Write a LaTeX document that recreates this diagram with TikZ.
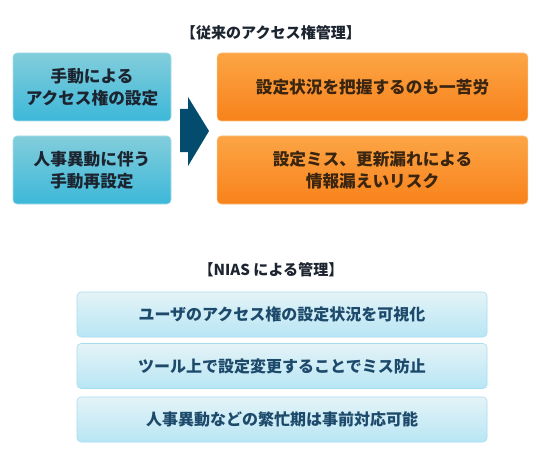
\documentclass[tikz,border=0pt]{standalone}
\usepackage{fontspec}
\setmainfont{Noto Sans CJK JP}[BoldFont={Noto Sans CJK JP Black}]
\usepackage{tikz}
\usetikzlibrary{positioning}
\definecolor{NiasBlueTop}{HTML}{82CDDB}
\definecolor{NiasBlueBot}{HTML}{3DB8D9}
\definecolor{NiasBlueLine}{HTML}{A9DDE9}
\definecolor{NiasOrangeTop}{HTML}{FCA545}
\definecolor{NiasOrangeBot}{HTML}{F8821B}
\definecolor{NiasOrangeLine}{HTML}{FDBE78}
\definecolor{NiasPaleTop}{HTML}{E4F3F6}
\definecolor{NiasPaleBot}{HTML}{B8E6F5}
\definecolor{NiasPaleLine}{HTML}{A6DCF0}
\definecolor{NiasArrow}{HTML}{034C6E}
\definecolor{NiasInk}{HTML}{1C2430}
\definecolor{NiasBrown}{HTML}{3A2510}
\definecolor{NiasNavy}{HTML}{1D4A6B}

\tikzset{
  ttl/.style={font=\fontsize{11.3pt}{14pt}\selectfont\bfseries, text=NiasInk},
  oldbox/.style={rounded corners=3pt, draw=NiasBlueLine, top color=NiasBlueTop,
    bottom color=NiasBlueBot, minimum width=118.5pt, minimum height=51pt,
    align=center, text=NiasInk, font=\fontsize{12.5pt}{16.3pt}\selectfont\bfseries},
  riskbox/.style={rounded corners=3pt, draw=NiasOrangeLine, top color=NiasOrangeTop,
    bottom color=NiasOrangeBot, minimum width=233pt, minimum height=51pt,
    align=center, text=NiasBrown, font=\fontsize{12.5pt}{16.3pt}\selectfont\bfseries},
  niasbox/.style={rounded corners=3pt, draw=NiasPaleLine, top color=NiasPaleTop,
    bottom color=NiasPaleBot, minimum width=307.5pt, minimum height=33.75pt,
    align=center, text=NiasNavy, font=\fontsize{12pt}{14pt}\selectfont\bfseries}
}

\begin{document}
\begin{tikzpicture}[x=0.75pt, y=-0.75pt]
  \useasboundingbox (0,0) rectangle (543,453);
  % current management
  \node[ttl] (oldttl) at (271,33) {【従来のアクセス権管理】};
  \node[oldbox] (manual) at (92,87) {手動による\\アクセス権の設定};
  \node[oldbox] (reset) at (92,170) {人事異動に伴う\\手動再設定};
  \node[riskbox] (effort) at (372.5,87) {設定状況を把握するのも一苦労};
  \node[riskbox] (leak) at (372.5,170) {設定ミス、更新漏れによる\\情報漏えいリスク};
  \fill[NiasArrow] (180,109) -- (188,109) -- (188,97) -- (209,131)
    -- (188,166) -- (188,152) -- (180,152) -- cycle;    % arrow
  % NIAS
  \node[ttl] (niasttl) at (271,270) {【NIAS による管理】};
  \node[niasbox] (visual) at (282,314.5) {ユーザのアクセス権の設定状況を可視化};
  \node[niasbox] (tool) at (282,366) {ツール上で設定変更することでミス防止};
  \node[niasbox] (ahead) at (282,419.5) {人事異動などの繁忙期は事前対応可能};
\end{tikzpicture}
\end{document}
